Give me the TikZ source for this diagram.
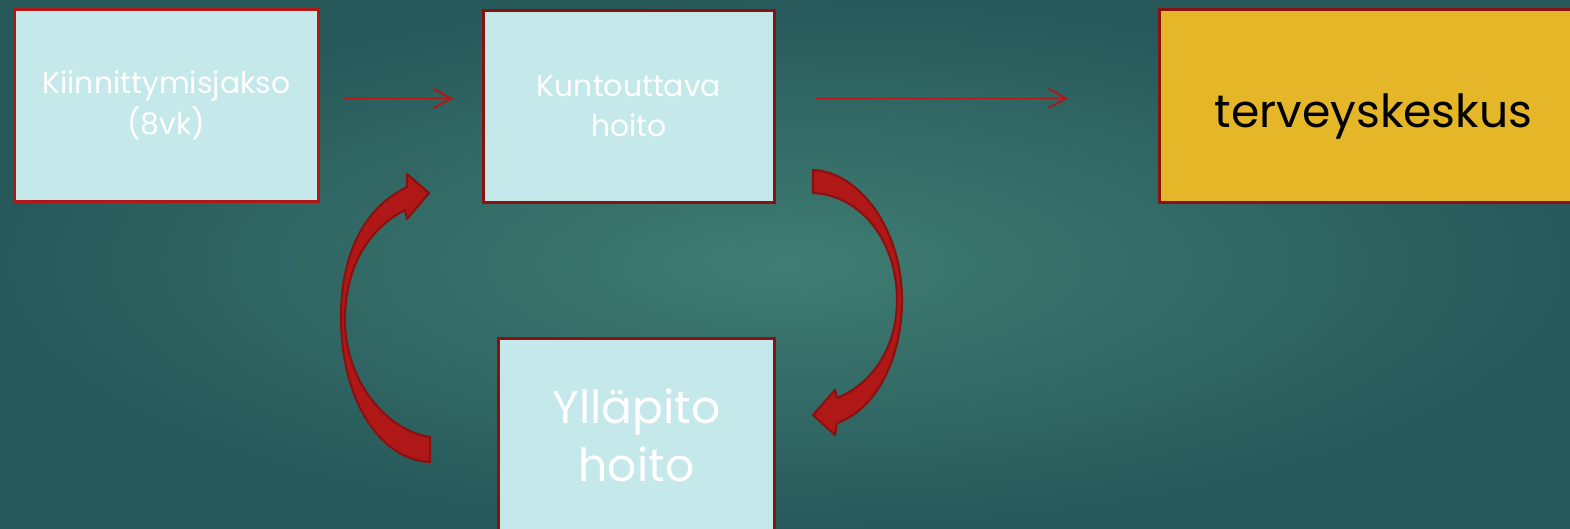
\documentclass[tikz,border=0pt]{standalone}
\usepackage{fontspec}
\setmainfont{Poppins}
\usepackage{tikz}
\usetikzlibrary{arrows.meta, positioning, calc}
\definecolor{ptTeal}{HTML}{27595A}
\definecolor{ptTealLight}{HTML}{3F7D72}
\definecolor{ptRed}{HTML}{B01818}
\definecolor{ptRedDark}{HTML}{8B1010}
\definecolor{ptIce}{HTML}{C5E8EA}
\definecolor{ptGold}{HTML}{E5B728}

\begin{document}
\begin{tikzpicture}[x=0.02cm, y=-0.02cm,
  stage/.style={draw=ptRedDark, fill=ptIce, line width=1.7pt, text=white, align=center,
                anchor=north west, inner sep=0pt},
  link/.style={-{Straight Barb[length=10pt, width=11pt, line width=1.1pt]}, line width=1.1pt, color=ptRed},
  loopshape/.style={fill=ptRed, draw=ptRedDark, line width=1.2pt, line join=round}
]
\shade[inner color=ptTealLight, outer color=ptTeal] (0,0) rectangle (1570,528);
\useasboundingbox (0,0) rectangle (1570,528);
\clip (0,0) rectangle (1570,528);

\node[stage, draw=ptRed, minimum width=6.08cm, minimum height=3.84cm, font=\fontsize{17}{23}\selectfont] (kiin) at (13,8)
  {Kiinnittymisjakso\\(8vk)};
\node[stage, minimum width=5.82cm, minimum height=3.84cm, font=\fontsize{17}{23}\selectfont] (kunt) at (482,9)
  {Kuntouttava\\hoito};
\node[stage, fill=ptGold, text=black, minimum width=8.56cm, minimum height=3.86cm, text height=25pt, text depth=0pt,
      font=\fontsize{26}{30}\selectfont] (terv) at (1158,8)
  {terveyskeskus};
\node[stage, minimum width=5.52cm, minimum height=3.88cm, font=\fontsize{26}{33}\selectfont] (yllap) at (497,337)
  {Ylläpito\\hoito};

\draw[link, shorten <=0.48cm, shorten >=0.58cm] ([yshift=0.14cm]kiin.east) -- ([yshift=0.14cm]kiin.east -| kunt.west);
\draw[link, shorten <=0.78cm, shorten >=1.8cm] ([yshift=0.16cm]kunt.east) -- ([yshift=0.16cm]kunt.east -| terv.west);

% curved block arrows
\draw[loopshape] (430,437) .. controls (385,430) and (345,380) .. (345,320)
  .. controls (345,265) and (370,228) .. (405,210) -- (407,219) -- (429,193) -- (407,174) -- (407,187)
  .. controls (360,210) and (341,260) .. (341,317) .. controls (341,400) and (380,460) .. (430,462) -- cycle;
\draw[loopshape] (813,170) .. controls (860,172) and (902,230) .. (902,300)
  .. controls (902,360) and (875,410) .. (837,423) -- (835,435) -- (813,415) -- (835,390) -- (837,398)
  .. controls (870,385) and (897,350) .. (897,300) .. controls (897,240) and (860,195) .. (813,193) -- cycle;
\end{tikzpicture}
\end{document}
